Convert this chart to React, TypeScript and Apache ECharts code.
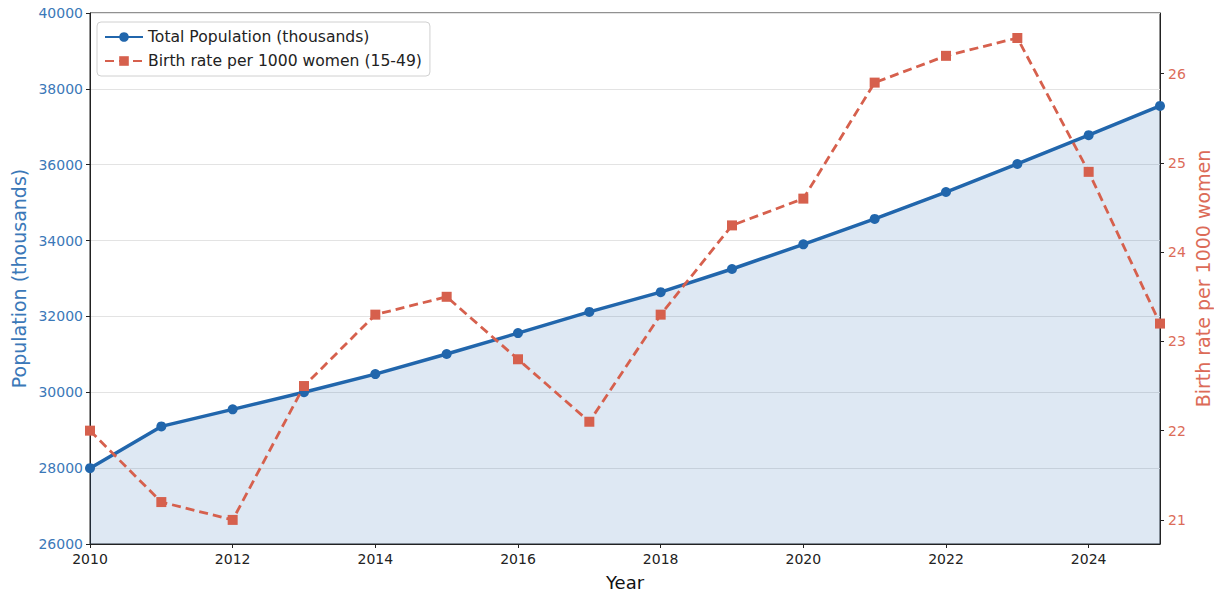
import React, { useEffect, useRef } from "react";
import * as echarts from "echarts";

const years = [2010, 2011, 2012, 2013, 2014, 2015, 2016, 2017, 2018, 2019, 2020, 2021, 2022, 2023, 2024, 2025];
const population = [28000, 29100, 29550, 30000, 30480, 31010, 31560, 32120, 32640, 33250, 33900, 34570, 35280, 36020, 36780, 37550];
const birthRate = [22.0, 21.2, 21.0, 22.5, 23.3, 23.5, 22.8, 22.1, 23.3, 24.3, 24.6, 25.9, 26.2, 26.4, 24.9, 23.2];
const rightTicks = [21, 22, 23, 24, 25, 26];

const BLUE = "#2166ac";
const RED = "#d6604d";
const FONT = "DejaVu Sans";

export default function App() {
  const ref = useRef<HTMLDivElement>(null);
  useEffect(() => {
    if (!ref.current) return;
    const chart = echarts.init(ref.current, undefined, { renderer: "svg" });
    chart.setOption({
      animation: false,
      textStyle: { fontFamily: FONT },
      grid: {
        left: 90, right: 54, top: 13, bottom: 47,
        outerBoundsMode: "none",
        containLabel: false,
        show: true, borderColor: "#222", borderWidth: 1, backgroundColor: "transparent",
      },
      legend: {
        orient: "vertical",
        left: 97, top: 22,
        backgroundColor: "#fff",
        borderColor: "#d0d0d0", borderWidth: 1, borderRadius: 4,
        padding: [7, 8, 7, 7],
        itemGap: 8,
        itemWidth: 38, itemHeight: 12,
        textStyle: { fontFamily: FONT, fontSize: 15.6, color: "#222" },
        data: ["Total Population (thousands)", "Birth rate per 1000 women (15-49)"],
      },
      xAxis: {
        type: "value",
        min: 2010, max: 2025, interval: 2,
        name: "Year", nameLocation: "middle", nameGap: 29,
        nameTextStyle: { fontFamily: FONT, fontSize: 18, color: "#111" },
        axisLine: { show: true, lineStyle: { color: "#222", width: 1 } },
        axisTick: { show: true, length: 4, lineStyle: { color: "#222" } },
        axisLabel: {
          color: "#222", fontSize: 14, margin: 8, fontFamily: FONT,
          showMaxLabel: false,
          formatter: (v: number) => (v % 2 === 0 ? String(v) : ""),
        },
        splitLine: { show: false },
      },
      yAxis: [
        {
          type: "value",
          min: 26000, max: 40000, interval: 2000,
          name: "Population (thousands)", nameLocation: "middle", nameGap: 62, nameRotate: 90,
          nameMoveOverlap: false,
          nameTextStyle: { fontFamily: FONT, fontSize: 19, color: "#3b78b8" },
          axisLine: { show: true, lineStyle: { color: "#222" } },
          axisTick: { show: true, length: 4, lineStyle: { color: "#222" } },
          axisLabel: { color: "#3b78b8", fontSize: 14, margin: 7, fontFamily: FONT, formatter: (v: number) => String(v) },
          splitLine: { show: true, lineStyle: { color: "#e3e3e3", width: 1 } },
        },
        {
          type: "value",
          position: "right",
          min: 20.73, max: 26.68,
          name: "Birth rate per 1000 women", nameLocation: "middle", nameGap: 33, nameRotate: 90,
          nameMoveOverlap: false,
          nameTextStyle: { fontFamily: FONT, fontSize: 19, color: "#dc6b58" },
          axisLine: { show: true, lineStyle: { color: "#222" } },
          axisTick: { show: true, length: 4, lineStyle: { color: "#222" }, customValues: rightTicks },
          axisLabel: { color: "#dc6b58", fontSize: 14, margin: 8, fontFamily: FONT, customValues: rightTicks, formatter: (v: number) => String(v) },
          splitLine: { show: false },
        },
      ],
      series: [
        {
          name: "Total Population (thousands)",
          type: "line",
          yAxisIndex: 0,
          data: years.map((y, i) => [y, population[i]]),
          symbol: "circle", symbolSize: 10,
          itemStyle: { color: BLUE },
          lineStyle: { color: BLUE, width: 3.5 },
          areaStyle: { color: "rgba(33,102,172,0.15)", opacity: 1, origin: "start" },
          z: 3,
        },
        {
          name: "Birth rate per 1000 women (15-49)",
          type: "line",
          yAxisIndex: 1,
          data: years.map((y, i) => [y, birthRate[i]]),
          symbol: "rect", symbolSize: 10,
          itemStyle: { color: RED },
          lineStyle: { color: RED, width: 2.8, type: [9, 5] },
          z: 4,
        },
      ],
    });
    return () => chart.dispose();
  }, []);
  return <div ref={ref} style={{ width: 1214, height: 591, position: "absolute", left: 0, top: 0 }} />;
}
